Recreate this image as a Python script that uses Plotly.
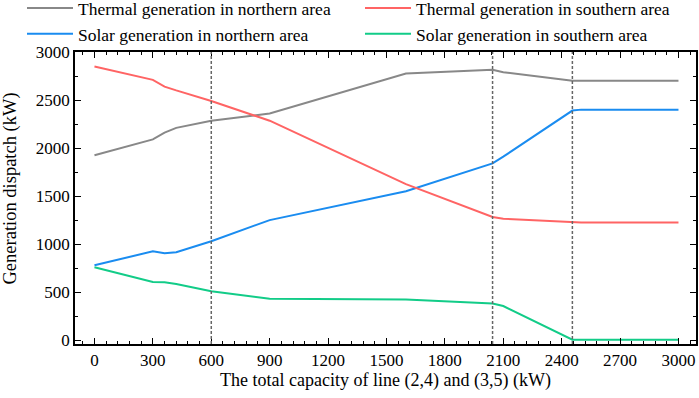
import plotly.graph_objects as go

# Total capacity of line (2,4) and (3,5) (kW)
capacity = [0, 300, 360, 420, 600, 900, 1600, 2045, 2100, 2455, 2500, 3000]

thermal_north = [1925, 2090, 2160, 2210, 2285, 2360, 2775, 2815, 2790, 2700, 2700, 2700]
thermal_south = [2850, 2710, 2640, 2600, 2490, 2285, 1625, 1283, 1265, 1225, 1225, 1225]
solar_north = [780, 925, 905, 915, 1030, 1250, 1550, 1840, 1910, 2390, 2400, 2400]
solar_south = [760, 605, 603, 585, 510, 430, 423, 382, 355, 5, 5, 5]

critical_capacities = [600, 2045, 2455]

x_ticks = [0, 300, 600, 900, 1200, 1500, 1800, 2100, 2400, 2700, 3000]
y_ticks = [0, 500, 1000, 1500, 2000, 2500, 3000]

series = [
    ("Thermal generation in northern area", thermal_north, "#888888", "legend"),
    ("Solar generation in northern area", solar_north, "#1a8cf0", "legend"),
    ("Thermal generation in southern area", thermal_south, "#ff6464", "legend2"),
    ("Solar generation in southern area", solar_south, "#12cc88", "legend2"),
]

FONT = "Liberation Serif"

fig = go.Figure()
for name, vals, color, lg in series:
    fig.add_trace(go.Scatter(x=capacity, y=vals, mode="lines", name=name,
                             legend=lg, line=dict(color=color, width=2)))

for c in critical_capacities:
    fig.add_vline(x=c, line=dict(color="#666666", width=1.5, dash="3px,2px"))

axis_common = dict(
    showline=True, linecolor="black", linewidth=1.5, mirror="ticks",
    ticks="inside", ticklen=6, tickwidth=1, tickcolor="black",
    showgrid=False, zeroline=False,
    tickfont=dict(family=FONT, size=17, color="black"),
)

fig.update_xaxes(
    **axis_common,
    range=[-100, 3090], tickvals=x_ticks,
    minor=dict(ticks="inside", ticklen=3, dtick=60, tick0=0, tickcolor="black"),
    title=dict(text="The total capacity of line (2,4) and (3,5) (kW)",
               font=dict(family=FONT, size=18, color="black"), standoff=4),
)
fig.update_yaxes(
    **axis_common,
    range=[-40, 3000], tickvals=y_ticks,
    minor=dict(ticks="inside", ticklen=3, dtick=250, tick0=0, tickcolor="black"),
)

# y-axis title as a rotated text label placed left of the tick labels
fig.add_annotation(
    text="Generation dispatch (kW)", textangle=-90,
    xref="paper", yref="paper", x=-0.104, y=0.534,
    xanchor="center", yanchor="middle", showarrow=False,
    font=dict(family=FONT, size=18.5, color="black"),
)

legend_common = dict(
    orientation="v", xref="container", yref="paper",
    y=1.212, xanchor="left", yanchor="top",
    itemwidth=46, tracegroupgap=0,
    font=dict(family=FONT, size=17.5, color="black"),
    bgcolor="rgba(0,0,0,0)", borderwidth=0,
)

fig.update_layout(
    width=699, height=398,
    margin=dict(l=75, r=3, t=52, b=54, autoexpand=False),
    plot_bgcolor="white", paper_bgcolor="white",
    font=dict(family=FONT, color="black"),
    showlegend=True,
    legend=dict(x=22 / 699, **legend_common),
    legend2=dict(x=360 / 699, **legend_common),
)

fig.write_html("out.html", config={"displayModeBar": False},
               post_script="document.body.style.margin='0';")
